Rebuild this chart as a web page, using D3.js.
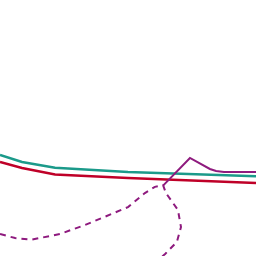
<!DOCTYPE html>
<html>
<head>
<meta charset="utf-8">
<script src="https://cdn.jsdelivr.net/npm/d3@7"></script>
<style>
  body { margin: 0; background: #fff; }
  svg { display: block; }
</style>
</head>
<body>
<div id="graph"></div>
<script>
// series values (chart units; x 0..100, y 0..100 going up)
var tealX = [0, 8.6, 21.5, 50, 100]
var tealY = [39.5, 36.7, 34.5, 32.8, 31.2]

var redX = [0, 8.6, 21.5, 50, 100]
var redY = [36.7, 34.4, 31.8, 30.5, 28.5]

var purpleX = [63.7, 74.2, 82, 84.4, 87.5, 100]
var purpleY = [27.5, 38.3, 34, 33.2, 32.8, 32.8]

var dashX = [0, 5.9, 12.5, 23.4, 33.2, 50, 56.6, 60.5, 63.7, 64.8, 69.5, 70.7, 69.1, 64.5, 61.7]
var dashY = [8.6, 7.0, 6.4, 8.6, 12.1, 19.1, 24.6, 27, 27.7, 24.6, 18, 11.3, 5.5, 0.8, -1.6]

var width = 256, height = 256

var x = d3.scaleLinear().domain([0, 100]).range([0, width])
var y = d3.scaleLinear().domain([0, 100]).range([height, 0])

var svg = d3.select('#graph').append('svg')
  .attr('width', width)
  .attr('height', height)

var line = d3.line()
  .x(d => x(d[0]))
  .y(d => y(d[1]))

function pts(xs, ys){ return xs.map((d, i) => [d, ys[i]]) }

svg.append('path')
  .attr('d', line(pts(tealX, tealY)))
  .attr('fill', 'none')
  .attr('stroke', '#1b9a8a')
  .attr('stroke-width', 2.5)

svg.append('path')
  .attr('d', line(pts(redX, redY)))
  .attr('fill', 'none')
  .attr('stroke', '#bf0028')
  .attr('stroke-width', 2.5)

svg.append('path')
  .attr('d', line(pts(purpleX, purpleY)))
  .attr('fill', 'none')
  .attr('stroke', '#8e1a7e')
  .attr('stroke-width', 2)

svg.append('path')
  .attr('d', line(pts(dashX, dashY)))
  .attr('fill', 'none')
  .attr('stroke', '#8e1a7e')
  .attr('stroke-width', 2)
  .attr('stroke-dasharray', '6,5')
</script>
</body>
</html>
